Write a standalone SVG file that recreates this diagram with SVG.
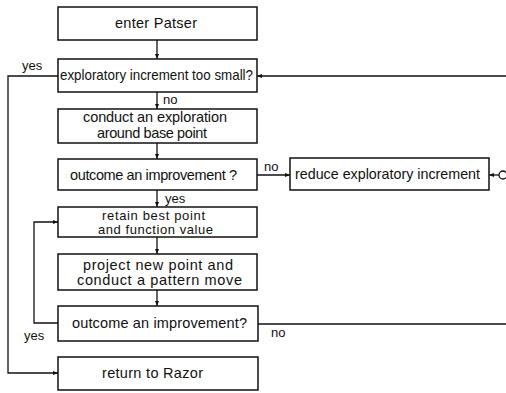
<svg xmlns="http://www.w3.org/2000/svg" width="506" height="393" viewBox="0 0 506 393">
<defs>
<style>
.box{fill:#fff;stroke:#111;stroke-width:1.5}
.ln{fill:none;stroke:#111;stroke-width:1.3}
.t{font-family:"Liberation Sans",Arial,sans-serif;font-size:14.5px;fill:#111}
.s{font-size:13px}
.l{font-family:"Liberation Sans",Arial,sans-serif;font-size:13px;fill:#111}
</style>
<marker id="ah" viewBox="0 0 10 10" refX="10" refY="5" markerWidth="6" markerHeight="5" orient="auto" markerUnits="userSpaceOnUse">
<path d="M0,1 L10,5 L0,9 Z" fill="#111"/>
</marker>
</defs>
<rect width="506" height="393" fill="#fff"/>
<g id="connectors">
<line class="ln" x1="157" y1="40" x2="157" y2="59" marker-end="url(#ah)"/>
<line class="ln" x1="157" y1="92" x2="157" y2="109" marker-end="url(#ah)"/>
<line class="ln" x1="157" y1="143" x2="157" y2="159" marker-end="url(#ah)"/>
<line class="ln" x1="157" y1="190" x2="157" y2="207" marker-end="url(#ah)"/>
<line class="ln" x1="157" y1="237" x2="157" y2="254" marker-end="url(#ah)"/>
<line class="ln" x1="157" y1="290" x2="157" y2="306" marker-end="url(#ah)"/>
<polyline class="ln" points="58,76 8,76 8,373 58,373" marker-end="url(#ah)"/>
<polyline class="ln" points="58,323 34,323 34,222 58,222" marker-end="url(#ah)"/>
<line class="ln" x1="506" y1="76" x2="257" y2="76" marker-end="url(#ah)"/>
<line class="ln" x1="257" y1="175" x2="290" y2="175" marker-end="url(#ah)"/>
<line class="ln" x1="499" y1="175" x2="489" y2="175" marker-end="url(#ah)"/>
<circle class="ln" cx="503" cy="175" r="4"/>
<line class="ln" x1="258" y1="324" x2="506" y2="324"/>
<text class="l" x="22" y="70">yes</text>
<text class="l" x="163" y="104">no</text>
<text class="l" x="165" y="203">yes</text>
<text class="l" x="264" y="171">no</text>
<text class="l" x="24" y="340">yes</text>
<text class="l" x="271" y="337">no</text>
</g>
<g id="n1"><rect class="box" x="58" y="7" width="199" height="33"/><text class="t" x="115" y="28" textLength="82" lengthAdjust="spacing">enter  Patser</text></g>
<g id="n2"><rect class="box" x="58" y="59" width="199" height="33"/><text class="t" x="60" y="80" textLength="193" lengthAdjust="spacingAndGlyphs">exploratory increment too small?</text></g>
<g id="n3"><rect class="box" x="58" y="109" width="199" height="34"/><text class="t" x="83" y="122" textLength="144" lengthAdjust="spacing">conduct an exploration</text><text class="t" x="97" y="138" textLength="110" lengthAdjust="spacing">around base point</text></g>
<g id="n4"><rect class="box" x="58" y="159" width="199" height="31"/><text class="t" x="70" y="180" textLength="167" lengthAdjust="spacing">outcome an improvement ?</text></g>
<g id="n5"><rect class="box" x="290" y="158" width="199" height="32"/><text class="t" x="295" y="179" textLength="185" lengthAdjust="spacingAndGlyphs">reduce exploratory increment</text></g>
<g id="n6"><rect class="box" x="58" y="207" width="199" height="30"/><text class="t s" x="102" y="219.5" textLength="103" lengthAdjust="spacing">retain best point</text><text class="t s" x="98" y="234" textLength="115" lengthAdjust="spacing">and function value</text></g>
<g id="n7"><rect class="box" x="58" y="254" width="199" height="36"/><text class="t" x="83" y="269.5" textLength="150" lengthAdjust="spacing">project new point and</text><text class="t" x="77" y="285" textLength="165" lengthAdjust="spacing">conduct a pattern move</text></g>
<g id="n8"><rect class="box" x="58" y="306" width="200" height="35"/><text class="t" x="72" y="328" textLength="175" lengthAdjust="spacing">outcome an improvement?</text></g>
<g id="n9"><rect class="box" x="58" y="357" width="200" height="33"/><text class="t" x="102" y="378" textLength="101" lengthAdjust="spacing">return to Razor</text></g>
</svg>
